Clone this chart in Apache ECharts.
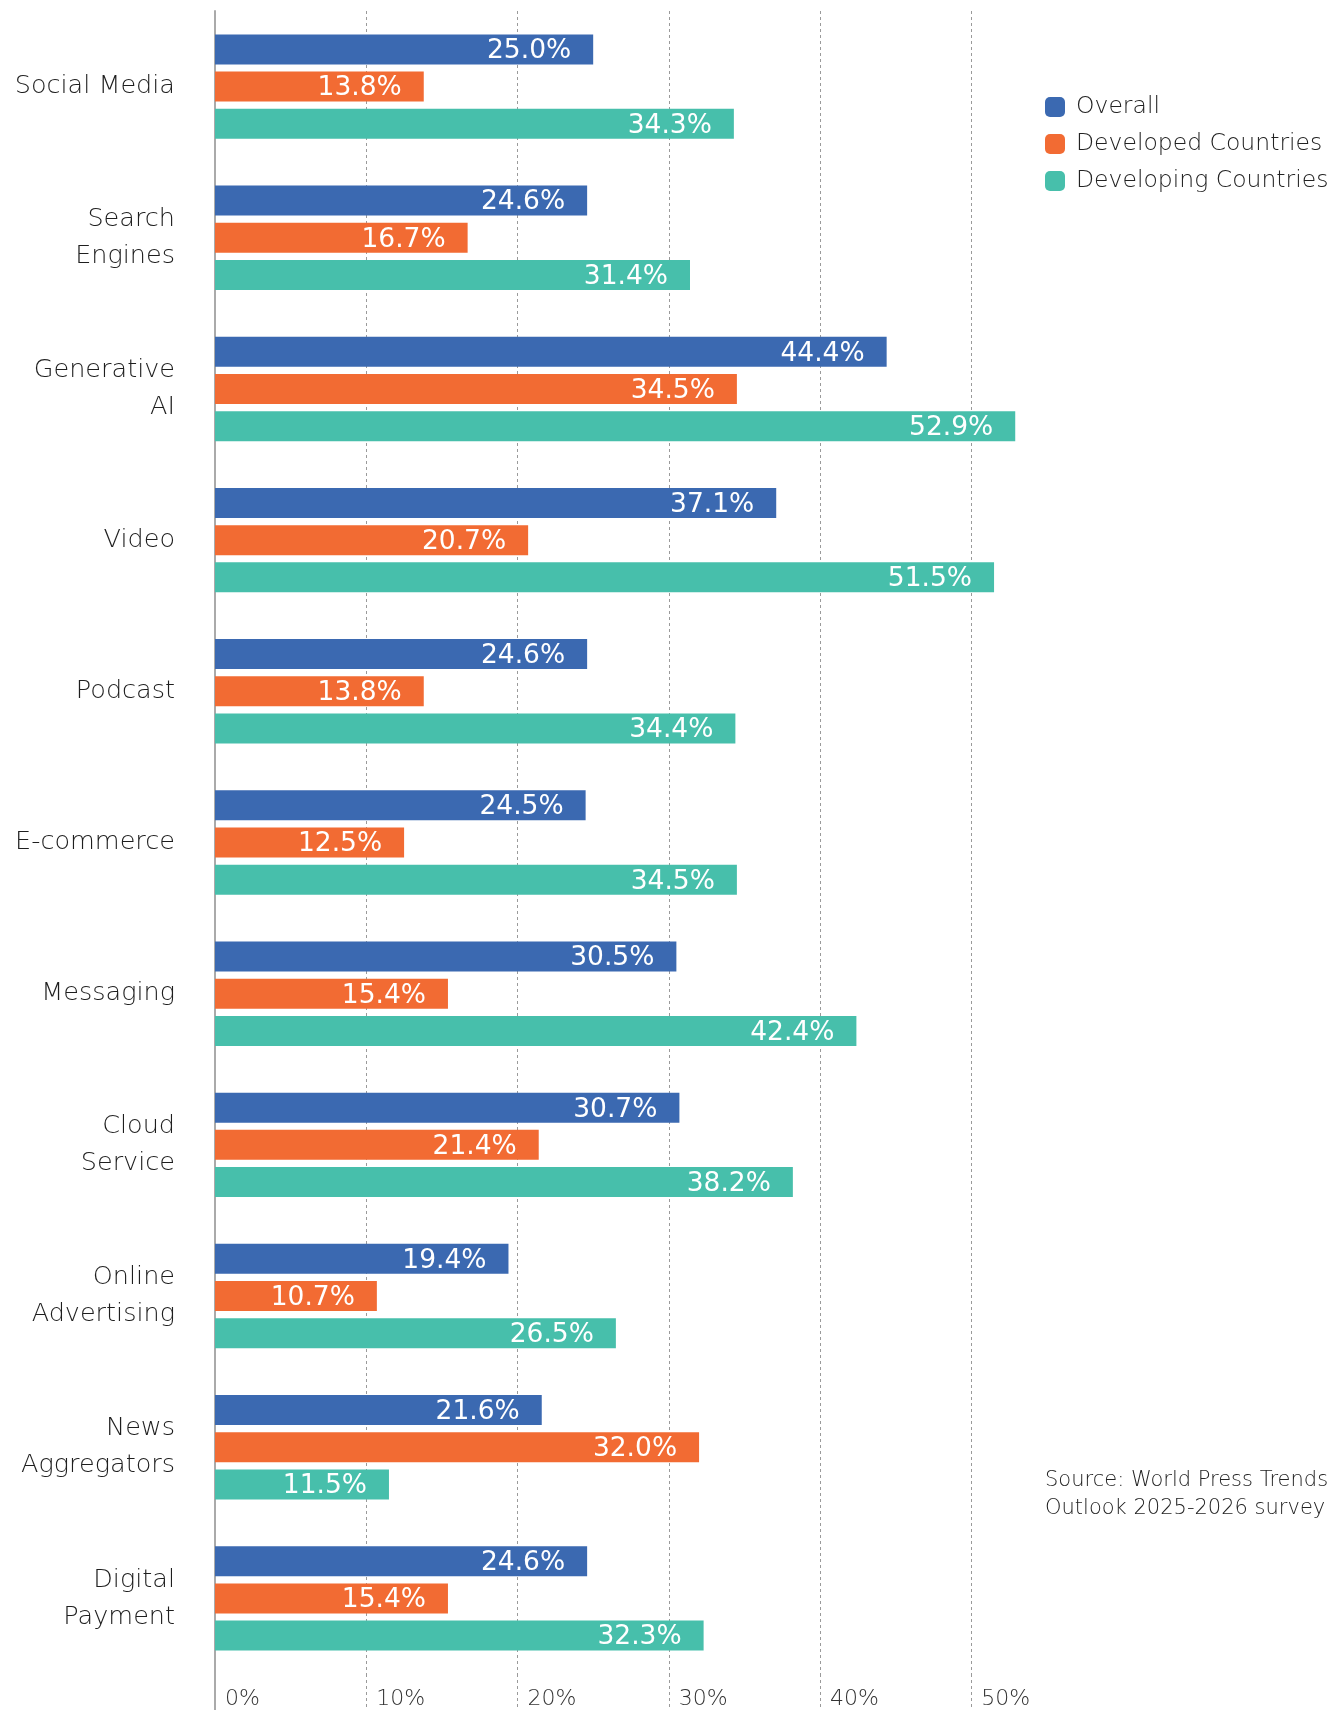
<!DOCTYPE html>
<html>
<head>
<meta charset="utf-8">
<script src="https://cdn.jsdelivr.net/npm/echarts@6/dist/echarts.min.js"></script>
<style>
  html, body { margin: 0; padding: 0; background: #fff; }
  #chart { width: 1340px; height: 1710px; }
</style>
</head>
<body>
<div id="chart"></div>
<script>
// Platform categories, top to bottom
const categories = [
  'Social Media', 'Search\nEngines', 'Generative\nAI', 'Video', 'Podcast',
  'E-commerce', 'Messaging', 'Cloud\nService', 'Online\nAdvertising',
  'News\nAggregators', 'Digital\nPayment'
];

// Share of respondents (%) per group
const overall    = [25.0, 24.6, 44.4, 37.1, 24.6, 24.5, 30.5, 30.7, 19.4, 21.6, 24.6];
const developed  = [13.8, 16.7, 34.5, 20.7, 13.8, 12.5, 15.4, 21.4, 10.7, 32.0, 15.4];
const developing = [34.3, 31.4, 52.9, 51.5, 34.4, 34.5, 42.4, 38.2, 26.5, 11.5, 32.3];

const seriesNames = ['Overall', 'Developed Countries', 'Developing Countries'];
const colors = ['#3B69B1', '#F26B33', '#47BFAB'];

const axisMax = 55;
const tickStep = 10;

const font = 'DejaVu Sans';
const gridLeft = 215;
const gridRight = 293;
const gridTop = 11;
const gridBottom = 36;

const chart = echarts.init(document.getElementById('chart'), null, { renderer: 'canvas' });

const valueLabel = {
  show: true,
  position: 'insideRight',
  distance: 22,
  offset: [0, 2],
  color: '#ffffff',
  fontFamily: font,
  fontSize: 26.5,
  fontWeight: 'normal',
  formatter: p => p.value.toFixed(1) + '%'
};

const dashed = { show: true, showMinLine: false, showMaxLine: false,
  lineStyle: { color: '#9a9a9a', width: 1, type: [3, 3] } };

function barSeries(name, data, color) {
  return {
    name: name,
    type: 'bar',
    xAxisIndex: 0,
    yAxisIndex: 0,
    data: data,
    barWidth: 30,
    barGap: '24%',
    itemStyle: { color: color },
    label: valueLabel,
    emphasis: { disabled: true }
  };
}

chart.setOption({
  animation: false,
  color: colors,
  title: {
    text: 'Source: World Press Trends\nOutlook 2025-2026 survey',
    left: 1040,
    top: 1462,
    textStyle: {
      fontFamily: font, fontWeight: 200, fontSize: 21,
      color: '#222222', lineHeight: 28
    }
  },
  legend: {
    orient: 'vertical',
    left: 1040,
    top: 90,
    itemWidth: 20,
    itemHeight: 20,
    itemGap: 13,
    icon: 'roundRect',
    selectedMode: false,
    data: seriesNames,
    textStyle: {
      fontFamily: font, fontWeight: 200, fontSize: 23.5, color: '#222222',
      padding: [0, 0, 0, 6]
    }
  },
  grid: [
    { left: gridLeft, right: gridRight, top: gridTop, bottom: gridBottom, containLabel: false },
    { left: gridLeft, right: gridRight, top: 1710 - gridBottom, bottom: 0, containLabel: false }
  ],
  xAxis: [
    {
      gridIndex: 0, type: 'value', min: 0, max: axisMax, interval: tickStep,
      axisLine: { show: false }, axisTick: { show: false },
      axisLabel: { show: false },
      splitLine: dashed
    },
    {
      gridIndex: 1, type: 'value', min: 0, max: axisMax, interval: tickStep,
      axisLine: { show: false }, axisTick: { show: false },
      splitLine: dashed,
      axisLabel: {
        inside: true, margin: 0, showMaxLabel: false,
        align: 'left', verticalAlign: 'bottom',
        padding: [0, 0, 0, 10],
        fontFamily: font, fontWeight: 200, fontSize: 22, color: '#333333',
        formatter: v => v + '%'
      }
    }
  ],
  yAxis: [
    {
      gridIndex: 0, type: 'category', data: categories, inverse: true,
      axisLine: { show: true, lineStyle: { color: '#aaaaaa', width: 2 } },
      axisTick: { show: false },
      splitLine: { show: false },
      axisLabel: {
        margin: 40, align: 'right',
        fontFamily: font, fontWeight: 200, fontSize: 25.5, color: '#1e1e1e',
        lineHeight: 37, padding: [7, 0, 0, 0]
      }
    },
    {
      gridIndex: 1, type: 'value', min: 0, max: 1,
      axisLine: { show: true, onZero: false, lineStyle: { color: '#aaaaaa', width: 2 } },
      axisTick: { show: false }, axisLabel: { show: false }, splitLine: { show: false }
    }
  ],
  series: [
    barSeries(seriesNames[0], overall, colors[0]),
    barSeries(seriesNames[1], developed, colors[1]),
    barSeries(seriesNames[2], developing, colors[2])
  ]
});
</script>
</body>
</html>
